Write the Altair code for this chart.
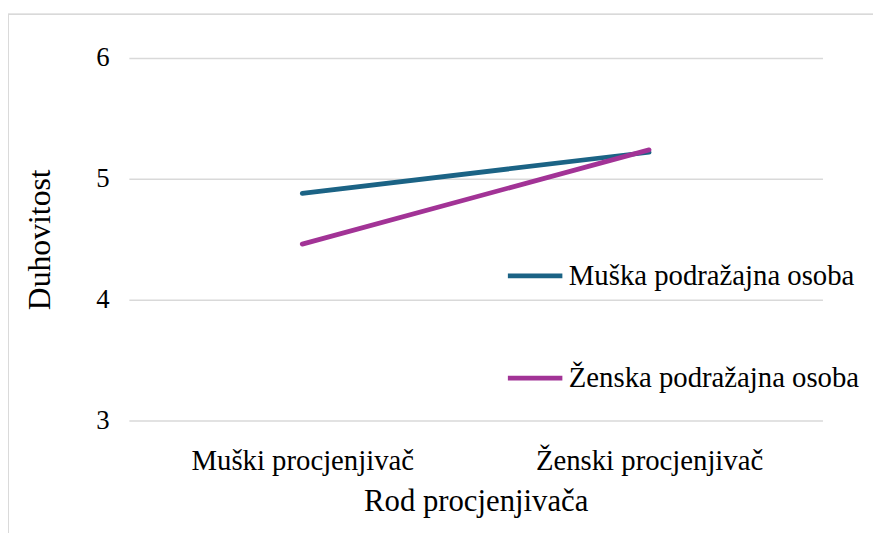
import altair as alt
import pandas as pd

categories = ["Muški procjenjivač", "Ženski procjenjivač"]
series_names = ["Muška podražajna osoba", "Ženska podražajna osoba"]
muska = [4.88, 5.22]
zenska = [4.46, 5.24]
colors = ["#1b6385", "#a23396"]

rows = []
for s, vals in zip(series_names, [muska, zenska]):
    for c, v in zip(categories, vals):
        rows.append({"Rod": c, "Serija": s, "Vrijednost": v})
df = pd.DataFrame(rows)

FONT = "'Liberation Serif', 'Times New Roman', serif"

lines = alt.Chart(df).mark_line(strokeWidth=4.8, strokeCap="round").encode(
    x=alt.X("Rod:N", sort=categories,
            scale=alt.Scale(type="point", padding=0.5),
            axis=alt.Axis(title="Rod procjenjivača", labelAngle=0, labelFontSize=29,
                          labelPadding=26, titleFontSize=31, titlePadding=12,
                          labelLimit=400,
                          ticks=False, domain=False, grid=False,
                          labelColor="#000000", titleColor="#000000",
                          labelFont=FONT, titleFont=FONT, titleFontWeight="normal")),
    y=alt.Y("Vrijednost:Q",
            scale=alt.Scale(domain=[3, 6], nice=False, zero=False),
            axis=alt.Axis(title="Duhovitost", values=[3, 4, 5, 6], labelFontSize=27,
                          labelPadding=20, titleFontSize=32, titlePadding=40,
                          ticks=False, domain=False, grid=True,
                          gridColor="#d9d9d9", gridWidth=1.5,
                          labelColor="#000000", titleColor="#000000",
                          labelFont=FONT, titleFont=FONT, titleFontWeight="normal")),
    color=alt.Color("Serija:N", sort=series_names,
                    scale=alt.Scale(domain=series_names, range=colors),
                    legend=alt.Legend(title=None, orient="none", legendX=380, legendY=190,
                                      symbolType="stroke", symbolSize=3025,
                                      symbolStrokeWidth=4.8, labelFontSize=29,
                                      labelFont=FONT, labelColor="#000000",
                                      labelOffset=4, rowPadding=58, labelLimit=400)),
    order=alt.Order("Rod:N"),
)

frame_left = alt.Chart(df).mark_rule(color="#d9d9d9", strokeWidth=1.5).encode(
    x=alt.value(-122), y=alt.value(-44), y2=alt.value(480)
)
frame_top = alt.Chart(df).mark_rule(color="#d9d9d9", strokeWidth=1.5).encode(
    x=alt.value(-122), x2=alt.value(760), y=alt.value(-44)
)

chart = alt.layer(frame_left, frame_top, lines).properties(
    width=700, height=366,
    autosize=alt.AutoSizeParams(type="none"),
    padding={"left": 122, "top": 48, "right": 51, "bottom": 111},
).configure(font=FONT).configure_view(stroke=None)

chart.save("out.html", embed_options={"renderer": "svg", "actions": False})
